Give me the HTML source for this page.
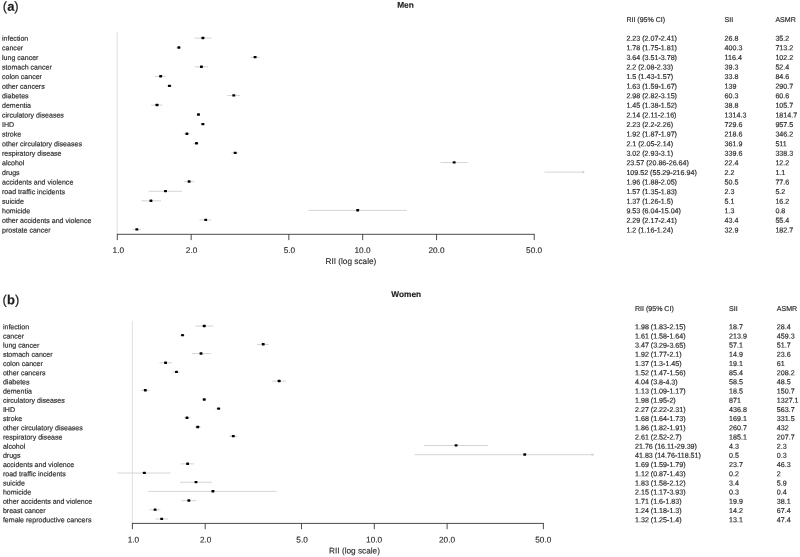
<!DOCTYPE html>
<html><head><meta charset="utf-8"><title>RII forest plot</title>
<style>
html,body{margin:0;padding:0;background:#fff;}
body{width:800px;height:557px;overflow:hidden;}
svg{display:block;font-family:"Liberation Sans",Arial,Helvetica,sans-serif;}
text{fill:#2a2a2a;stroke:#2a2a2a;stroke-width:0.17px;}
.t{font-size:7.06px;}
.r{font-size:7.12px;}
.a{font-size:8.25px;stroke-width:0.13px;}
.pl{font-size:13px;fill:#1a1a1a;}
.ti{font-size:8.3px;font-weight:bold;fill:#1a1a1a;}
.ref{stroke:#e0e0e0;stroke-width:1;}
.ci{stroke:#cdcdcd;stroke-width:0.85;stroke-linecap:square;}
.ar{fill:none;stroke:#c4c4c4;stroke-width:0.7;}
.pt{fill:#000;}
.ax{stroke:#2a2a2a;stroke-width:0.85;}
</style></head><body>
<svg width="800" height="557" viewBox="0 0 800 557">
<rect width="800" height="557" fill="#fff"/>
<g id="panel-a">
<text class="pl" x="2.80" y="10.70" transform="rotate(0.04 2.80 10.70)">(<tspan font-weight="bold">a</tspan>)</text>
<text class="ti" x="405.50" y="7.80" text-anchor="middle" transform="rotate(0.04 405.50 7.80)">Men</text>
<text class="t" x="626.40" y="21.90" transform="rotate(0.04 626.40 21.90)">RII (95% CI)</text>
<text class="t" x="724.60" y="21.90" transform="rotate(0.04 724.60 21.90)">SII</text>
<text class="t" x="775.40" y="21.90" transform="rotate(0.04 775.40 21.90)">ASMR</text>
<line class="ref" x1="117.2" y1="32.2" x2="117.2" y2="234.3"/>
<text class="t" x="2.00" y="40.70" transform="rotate(0.04 2.00 40.70)">infection</text>
<text class="t r" x="626.40" y="40.70" transform="rotate(0.04 626.40 40.70)">2.23 (2.07-2.41)</text>
<text class="t r" x="724.60" y="40.70" transform="rotate(0.04 724.60 40.70)">26.8</text>
<text class="t r" x="775.40" y="40.70" transform="rotate(0.04 775.40 40.70)">35.2</text>
<line class="ci" x1="194.84" y1="38.15" x2="211.05" y2="38.15"/>
<rect class="pt" x="201.42" y="36.80" width="2.9" height="2.4" rx="0.45"/>
<text class="t" x="2.00" y="50.29" transform="rotate(0.04 2.00 50.29)">cancer</text>
<text class="t r" x="626.40" y="50.29" transform="rotate(0.04 626.40 50.29)">1.78 (1.75-1.81)</text>
<text class="t r" x="724.60" y="50.29" transform="rotate(0.04 724.60 50.29)">400.3</text>
<text class="t r" x="775.40" y="50.29" transform="rotate(0.04 775.40 50.29)">713.2</text>
<line class="ci" x1="176.94" y1="47.72" x2="180.53" y2="47.72"/>
<rect class="pt" x="177.40" y="46.37" width="2.9" height="2.4" rx="0.45"/>
<text class="t" x="2.00" y="59.88" transform="rotate(0.04 2.00 59.88)">lung cancer</text>
<text class="t r" x="626.40" y="59.88" transform="rotate(0.04 626.40 59.88)">3.64 (3.51-3.78)</text>
<text class="t r" x="724.60" y="59.88" transform="rotate(0.04 724.60 59.88)">116.4</text>
<text class="t r" x="775.40" y="59.88" transform="rotate(0.04 775.40 59.88)">102.2</text>
<line class="ci" x1="251.12" y1="57.29" x2="259.02" y2="57.29"/>
<rect class="pt" x="253.64" y="55.94" width="2.9" height="2.4" rx="0.45"/>
<text class="t" x="2.00" y="69.46" transform="rotate(0.04 2.00 69.46)">stomach cancer</text>
<text class="t r" x="626.40" y="69.46" transform="rotate(0.04 626.40 69.46)">2.2 (2.08-2.33)</text>
<text class="t r" x="724.60" y="69.46" transform="rotate(0.04 724.60 69.46)">39.3</text>
<text class="t r" x="775.40" y="69.46" transform="rotate(0.04 775.40 69.46)">52.4</text>
<line class="ci" x1="195.35" y1="66.86" x2="207.45" y2="66.86"/>
<rect class="pt" x="199.98" y="65.51" width="2.9" height="2.4" rx="0.45"/>
<text class="t" x="2.00" y="79.05" transform="rotate(0.04 2.00 79.05)">colon cancer</text>
<text class="t r" x="626.40" y="79.05" transform="rotate(0.04 626.40 79.05)">1.5 (1.43-1.57)</text>
<text class="t r" x="724.60" y="79.05" transform="rotate(0.04 724.60 79.05)">33.8</text>
<text class="t r" x="775.40" y="79.05" transform="rotate(0.04 775.40 79.05)">84.6</text>
<line class="ci" x1="155.42" y1="76.43" x2="165.37" y2="76.43"/>
<rect class="pt" x="159.16" y="75.08" width="2.9" height="2.4" rx="0.45"/>
<text class="t" x="2.00" y="88.64" transform="rotate(0.04 2.00 88.64)">other cancers</text>
<text class="t r" x="626.40" y="88.64" transform="rotate(0.04 626.40 88.64)">1.63 (1.59-1.67)</text>
<text class="t r" x="724.60" y="88.64" transform="rotate(0.04 724.60 88.64)">139</text>
<text class="t r" x="775.40" y="88.64" transform="rotate(0.04 775.40 88.64)">290.7</text>
<line class="ci" x1="166.72" y1="86.00" x2="171.95" y2="86.00"/>
<rect class="pt" x="168.02" y="84.65" width="2.9" height="2.4" rx="0.45"/>
<text class="t" x="2.00" y="98.23" transform="rotate(0.04 2.00 98.23)">diabetes</text>
<text class="t r" x="626.40" y="98.23" transform="rotate(0.04 626.40 98.23)">2.98 (2.82-3.15)</text>
<text class="t r" x="724.60" y="98.23" transform="rotate(0.04 724.60 98.23)">60.3</text>
<text class="t r" x="775.40" y="98.23" transform="rotate(0.04 775.40 98.23)">60.6</text>
<line class="ci" x1="227.79" y1="95.57" x2="239.59" y2="95.57"/>
<rect class="pt" x="232.32" y="94.22" width="2.9" height="2.4" rx="0.45"/>
<text class="t" x="2.00" y="107.82" transform="rotate(0.04 2.00 107.82)">dementia</text>
<text class="t r" x="626.40" y="107.82" transform="rotate(0.04 626.40 107.82)">1.45 (1.38-1.52)</text>
<text class="t r" x="724.60" y="107.82" transform="rotate(0.04 724.60 107.82)">38.8</text>
<text class="t r" x="775.40" y="107.82" transform="rotate(0.04 775.40 107.82)">105.7</text>
<line class="ci" x1="151.63" y1="105.14" x2="161.92" y2="105.14"/>
<rect class="pt" x="155.55" y="103.79" width="2.9" height="2.4" rx="0.45"/>
<text class="t" x="2.00" y="117.40" transform="rotate(0.04 2.00 117.40)">circulatory diseases</text>
<text class="t r" x="626.40" y="117.40" transform="rotate(0.04 626.40 117.40)">2.14 (2.11-2.16)</text>
<text class="t r" x="724.60" y="117.40" transform="rotate(0.04 724.60 117.40)">1314.3</text>
<text class="t r" x="775.40" y="117.40" transform="rotate(0.04 775.40 117.40)">1814.7</text>
<line class="ci" x1="196.88" y1="114.71" x2="199.37" y2="114.71"/>
<rect class="pt" x="197.03" y="113.36" width="2.9" height="2.4" rx="0.45"/>
<text class="t" x="2.00" y="126.99" transform="rotate(0.04 2.00 126.99)">IHD</text>
<text class="t r" x="626.40" y="126.99" transform="rotate(0.04 626.40 126.99)">2.23 (2.2-2.26)</text>
<text class="t r" x="724.60" y="126.99" transform="rotate(0.04 724.60 126.99)">729.6</text>
<text class="t r" x="775.40" y="126.99" transform="rotate(0.04 775.40 126.99)">957.5</text>
<line class="ci" x1="201.33" y1="124.28" x2="204.20" y2="124.28"/>
<rect class="pt" x="201.42" y="122.93" width="2.9" height="2.4" rx="0.45"/>
<text class="t" x="2.00" y="136.58" transform="rotate(0.04 2.00 136.58)">stroke</text>
<text class="t r" x="626.40" y="136.58" transform="rotate(0.04 626.40 136.58)">1.92 (1.87-1.97)</text>
<text class="t r" x="724.60" y="136.58" transform="rotate(0.04 724.60 136.58)">218.6</text>
<text class="t r" x="775.40" y="136.58" transform="rotate(0.04 775.40 136.58)">346.2</text>
<line class="ci" x1="184.01" y1="133.85" x2="189.56" y2="133.85"/>
<rect class="pt" x="185.47" y="132.50" width="2.9" height="2.4" rx="0.45"/>
<text class="t" x="2.00" y="146.17" transform="rotate(0.04 2.00 146.17)">other circulatory diseases</text>
<text class="t r" x="626.40" y="146.17" transform="rotate(0.04 626.40 146.17)">2.1 (2.05-2.14)</text>
<text class="t r" x="724.60" y="146.17" transform="rotate(0.04 724.60 146.17)">361.9</text>
<text class="t r" x="775.40" y="146.17" transform="rotate(0.04 775.40 146.17)">511</text>
<line class="ci" x1="193.80" y1="143.42" x2="198.38" y2="143.42"/>
<rect class="pt" x="195.02" y="142.07" width="2.9" height="2.4" rx="0.45"/>
<text class="t" x="2.00" y="155.76" transform="rotate(0.04 2.00 155.76)">respiratory disease</text>
<text class="t r" x="626.40" y="155.76" transform="rotate(0.04 626.40 155.76)">3.02 (2.93-3.1)</text>
<text class="t r" x="724.60" y="155.76" transform="rotate(0.04 724.60 155.76)">339.6</text>
<text class="t r" x="775.40" y="155.76" transform="rotate(0.04 775.40 155.76)">338.3</text>
<line class="ci" x1="231.87" y1="152.99" x2="237.88" y2="152.99"/>
<rect class="pt" x="233.74" y="151.64" width="2.9" height="2.4" rx="0.45"/>
<text class="t" x="2.00" y="165.34" transform="rotate(0.04 2.00 165.34)">alcohol</text>
<text class="t r" x="626.40" y="165.34" transform="rotate(0.04 626.40 165.34)">23.57 (20.86-26.64)</text>
<text class="t r" x="724.60" y="165.34" transform="rotate(0.04 724.60 165.34)">22.4</text>
<text class="t r" x="775.40" y="165.34" transform="rotate(0.04 775.40 165.34)">12.2</text>
<line class="ci" x1="441.06" y1="162.56" x2="467.13" y2="162.56"/>
<rect class="pt" x="452.73" y="161.21" width="2.9" height="2.4" rx="0.45"/>
<text class="t" x="2.00" y="174.93" transform="rotate(0.04 2.00 174.93)">drugs</text>
<text class="t r" x="626.40" y="174.93" transform="rotate(0.04 626.40 174.93)">109.52 (55.29-216.94)</text>
<text class="t r" x="724.60" y="174.93" transform="rotate(0.04 724.60 174.93)">2.2</text>
<text class="t r" x="775.40" y="174.93" transform="rotate(0.04 775.40 174.93)">1.1</text>
<line class="ci" x1="544.95" y1="172.13" x2="584.00" y2="172.13"/>
<path class="ar" d="M582.10 171.13 L584.00 172.13 L582.10 173.13"/>
<text class="t" x="2.00" y="184.52" transform="rotate(0.04 2.00 184.52)">accidents and violence</text>
<text class="t r" x="626.40" y="184.52" transform="rotate(0.04 626.40 184.52)">1.96 (1.88-2.05)</text>
<text class="t r" x="724.60" y="184.52" transform="rotate(0.04 724.60 184.52)">50.5</text>
<text class="t r" x="775.40" y="184.52" transform="rotate(0.04 775.40 184.52)">77.6</text>
<line class="ci" x1="184.58" y1="181.70" x2="193.80" y2="181.70"/>
<rect class="pt" x="187.67" y="180.35" width="2.9" height="2.4" rx="0.45"/>
<text class="t" x="2.00" y="194.11" transform="rotate(0.04 2.00 194.11)">road traffic incidents</text>
<text class="t r" x="626.40" y="194.11" transform="rotate(0.04 626.40 194.11)">1.57 (1.35-1.83)</text>
<text class="t r" x="724.60" y="194.11" transform="rotate(0.04 724.60 194.11)">2.3</text>
<text class="t r" x="775.40" y="194.11" transform="rotate(0.04 775.40 194.11)">5.2</text>
<line class="ci" x1="149.28" y1="191.27" x2="181.71" y2="191.27"/>
<rect class="pt" x="164.02" y="189.92" width="2.9" height="2.4" rx="0.45"/>
<text class="t" x="2.00" y="203.70" transform="rotate(0.04 2.00 203.70)">suicide</text>
<text class="t r" x="626.40" y="203.70" transform="rotate(0.04 626.40 203.70)">1.37 (1.26-1.5)</text>
<text class="t r" x="724.60" y="203.70" transform="rotate(0.04 724.60 203.70)">5.1</text>
<text class="t r" x="775.40" y="203.70" transform="rotate(0.04 775.40 203.70)">16.2</text>
<line class="ci" x1="141.93" y1="200.84" x2="160.51" y2="200.84"/>
<rect class="pt" x="149.50" y="199.49" width="2.9" height="2.4" rx="0.45"/>
<text class="t" x="2.00" y="213.28" transform="rotate(0.04 2.00 213.28)">homicide</text>
<text class="t r" x="626.40" y="213.28" transform="rotate(0.04 626.40 213.28)">9.53 (6.04-15.04)</text>
<text class="t r" x="724.60" y="213.28" transform="rotate(0.04 724.60 213.28)">1.3</text>
<text class="t r" x="775.40" y="213.28" transform="rotate(0.04 775.40 213.28)">0.8</text>
<line class="ci" x1="308.97" y1="210.41" x2="406.20" y2="210.41"/>
<rect class="pt" x="356.22" y="209.06" width="2.9" height="2.4" rx="0.45"/>
<text class="t" x="2.00" y="222.87" transform="rotate(0.04 2.00 222.87)">other accidents and violence</text>
<text class="t r" x="626.40" y="222.87" transform="rotate(0.04 626.40 222.87)">2.29 (2.17-2.41)</text>
<text class="t r" x="724.60" y="222.87" transform="rotate(0.04 724.60 222.87)">43.4</text>
<text class="t r" x="775.40" y="222.87" transform="rotate(0.04 775.40 222.87)">55.4</text>
<line class="ci" x1="199.87" y1="219.98" x2="211.05" y2="219.98"/>
<rect class="pt" x="204.25" y="218.63" width="2.9" height="2.4" rx="0.45"/>
<text class="t" x="2.00" y="232.46" transform="rotate(0.04 2.00 232.46)">prostate cancer</text>
<text class="t r" x="626.40" y="232.46" transform="rotate(0.04 626.40 232.46)">1.2 (1.16-1.24)</text>
<text class="t r" x="724.60" y="232.46" transform="rotate(0.04 724.60 232.46)">32.9</text>
<text class="t r" x="775.40" y="232.46" transform="rotate(0.04 775.40 232.46)">182.7</text>
<line class="ci" x1="133.12" y1="229.55" x2="140.23" y2="229.55"/>
<rect class="pt" x="135.38" y="228.20" width="2.9" height="2.4" rx="0.45"/>
<line class="ax" x1="116.80" y1="234.3" x2="534.73" y2="234.3"/>
<line class="ax" x1="117.30" y1="234.3" x2="117.30" y2="240.10000000000002"/>
<text class="a" x="118.30" y="253.10" text-anchor="middle" transform="rotate(0.04 118.30 253.10)">1.0</text>
<line class="ax" x1="191.17" y1="234.3" x2="191.17" y2="240.10000000000002"/>
<text class="a" x="191.57" y="253.10" text-anchor="middle" transform="rotate(0.04 191.57 253.10)">2.0</text>
<line class="ax" x1="288.83" y1="234.3" x2="288.83" y2="240.10000000000002"/>
<text class="a" x="289.43" y="253.10" text-anchor="middle" transform="rotate(0.04 289.43 253.10)">5.0</text>
<line class="ax" x1="362.70" y1="234.3" x2="362.70" y2="240.10000000000002"/>
<text class="a" x="362.50" y="253.10" text-anchor="middle" transform="rotate(0.04 362.50 253.10)">10.0</text>
<line class="ax" x1="436.57" y1="234.3" x2="436.57" y2="240.10000000000002"/>
<text class="a" x="436.47" y="253.10" text-anchor="middle" transform="rotate(0.04 436.47 253.10)">20.0</text>
<line class="ax" x1="534.23" y1="234.3" x2="534.23" y2="240.10000000000002"/>
<text class="a" x="534.13" y="253.10" text-anchor="middle" transform="rotate(0.04 534.13 253.10)">50.0</text>
<text class="a" x="350.90" y="264.00" text-anchor="middle" transform="rotate(0.04 350.90 264.00)">RII (log scale)</text>
</g>
<g id="panel-b">
<text class="pl" x="2.60" y="304.20" transform="rotate(0.04 2.60 304.20)">(<tspan font-weight="bold">b</tspan>)</text>
<text class="ti" x="406.20" y="296.90" text-anchor="middle" transform="rotate(0.04 406.20 296.90)">Women</text>
<text class="t" x="635.00" y="311.00" transform="rotate(0.04 635.00 311.00)">RII (95% CI)</text>
<text class="t" x="729.10" y="311.00" transform="rotate(0.04 729.10 311.00)">SII</text>
<text class="t" x="776.80" y="311.00" transform="rotate(0.04 776.80 311.00)">ASMR</text>
<line class="ref" x1="132.4" y1="320.8" x2="132.4" y2="523.4"/>
<text class="t" x="2.90" y="329.25" transform="rotate(0.04 2.90 329.25)">infection</text>
<text class="t r" x="635.00" y="329.25" transform="rotate(0.04 635.00 329.25)">1.98 (1.83-2.15)</text>
<text class="t r" x="729.10" y="329.25" transform="rotate(0.04 729.10 329.25)">18.7</text>
<text class="t r" x="776.80" y="329.25" transform="rotate(0.04 776.80 329.25)">28.4</text>
<line class="ci" x1="195.89" y1="326.10" x2="212.82" y2="326.10"/>
<rect class="pt" x="202.81" y="324.75" width="2.9" height="2.4" rx="0.45"/>
<text class="t" x="2.90" y="338.44" transform="rotate(0.04 2.90 338.44)">cancer</text>
<text class="t r" x="635.00" y="338.44" transform="rotate(0.04 635.00 338.44)">1.61 (1.58-1.64)</text>
<text class="t r" x="729.10" y="338.44" transform="rotate(0.04 729.10 338.44)">213.9</text>
<text class="t r" x="776.80" y="338.44" transform="rotate(0.04 776.80 338.44)">459.3</text>
<line class="ci" x1="180.46" y1="335.28" x2="184.37" y2="335.28"/>
<rect class="pt" x="181.08" y="333.94" width="2.9" height="2.4" rx="0.45"/>
<text class="t" x="2.90" y="347.62" transform="rotate(0.04 2.90 347.62)">lung cancer</text>
<text class="t r" x="635.00" y="347.62" transform="rotate(0.04 635.00 347.62)">3.47 (3.29-3.65)</text>
<text class="t r" x="729.10" y="347.62" transform="rotate(0.04 729.10 347.62)">57.1</text>
<text class="t r" x="776.80" y="347.62" transform="rotate(0.04 776.80 347.62)">51.7</text>
<line class="ci" x1="257.51" y1="344.47" x2="268.42" y2="344.47"/>
<rect class="pt" x="261.76" y="343.12" width="2.9" height="2.4" rx="0.45"/>
<text class="t" x="2.90" y="356.81" transform="rotate(0.04 2.90 356.81)">stomach cancer</text>
<text class="t r" x="635.00" y="356.81" transform="rotate(0.04 635.00 356.81)">1.92 (1.77-2.1)</text>
<text class="t r" x="729.10" y="356.81" transform="rotate(0.04 729.10 356.81)">14.9</text>
<text class="t r" x="776.80" y="356.81" transform="rotate(0.04 776.80 356.81)">23.6</text>
<line class="ci" x1="192.38" y1="353.65" x2="210.34" y2="353.65"/>
<rect class="pt" x="199.58" y="352.31" width="2.9" height="2.4" rx="0.45"/>
<text class="t" x="2.90" y="365.99" transform="rotate(0.04 2.90 365.99)">colon cancer</text>
<text class="t r" x="635.00" y="365.99" transform="rotate(0.04 635.00 365.99)">1.37 (1.3-1.45)</text>
<text class="t r" x="729.10" y="365.99" transform="rotate(0.04 729.10 365.99)">19.1</text>
<text class="t r" x="776.80" y="365.99" transform="rotate(0.04 776.80 365.99)">61</text>
<line class="ci" x1="159.96" y1="362.84" x2="171.43" y2="362.84"/>
<rect class="pt" x="164.12" y="361.49" width="2.9" height="2.4" rx="0.45"/>
<text class="t" x="2.90" y="375.18" transform="rotate(0.04 2.90 375.18)">other cancers</text>
<text class="t r" x="635.00" y="375.18" transform="rotate(0.04 635.00 375.18)">1.52 (1.47-1.56)</text>
<text class="t r" x="729.10" y="375.18" transform="rotate(0.04 729.10 375.18)">85.4</text>
<text class="t r" x="776.80" y="375.18" transform="rotate(0.04 776.80 375.18)">208.2</text>
<line class="ci" x1="172.87" y1="372.02" x2="179.12" y2="372.02"/>
<rect class="pt" x="175.04" y="370.68" width="2.9" height="2.4" rx="0.45"/>
<text class="t" x="2.90" y="384.36" transform="rotate(0.04 2.90 384.36)">diabetes</text>
<text class="t r" x="635.00" y="384.36" transform="rotate(0.04 635.00 384.36)">4.04 (3.8-4.3)</text>
<text class="t r" x="729.10" y="384.36" transform="rotate(0.04 729.10 384.36)">58.5</text>
<text class="t r" x="776.80" y="384.36" transform="rotate(0.04 776.80 384.36)">48.5</text>
<line class="ci" x1="272.65" y1="381.21" x2="285.64" y2="381.21"/>
<rect class="pt" x="277.73" y="379.86" width="2.9" height="2.4" rx="0.45"/>
<text class="t" x="2.90" y="393.55" transform="rotate(0.04 2.90 393.55)">dementia</text>
<text class="t r" x="635.00" y="393.55" transform="rotate(0.04 635.00 393.55)">1.13 (1.09-1.17)</text>
<text class="t r" x="729.10" y="393.55" transform="rotate(0.04 729.10 393.55)">18.5</text>
<text class="t r" x="776.80" y="393.55" transform="rotate(0.04 776.80 393.55)">150.7</text>
<line class="ci" x1="141.45" y1="390.39" x2="148.89" y2="390.39"/>
<rect class="pt" x="143.89" y="389.05" width="2.9" height="2.4" rx="0.45"/>
<text class="t" x="2.90" y="402.73" transform="rotate(0.04 2.90 402.73)">circulatory diseases</text>
<text class="t r" x="635.00" y="402.73" transform="rotate(0.04 635.00 402.73)">1.98 (1.95-2)</text>
<text class="t r" x="729.10" y="402.73" transform="rotate(0.04 729.10 402.73)">871</text>
<text class="t r" x="776.80" y="402.73" transform="rotate(0.04 776.80 402.73)">1327.1</text>
<line class="ci" x1="202.56" y1="399.58" x2="205.22" y2="399.58"/>
<rect class="pt" x="202.81" y="398.23" width="2.9" height="2.4" rx="0.45"/>
<text class="t" x="2.90" y="411.92" transform="rotate(0.04 2.90 411.92)">IHD</text>
<text class="t r" x="635.00" y="411.92" transform="rotate(0.04 635.00 411.92)">2.27 (2.22-2.31)</text>
<text class="t r" x="729.10" y="411.92" transform="rotate(0.04 729.10 411.92)">436.8</text>
<text class="t r" x="776.80" y="411.92" transform="rotate(0.04 776.80 411.92)">563.7</text>
<line class="ci" x1="216.18" y1="408.76" x2="220.36" y2="408.76"/>
<rect class="pt" x="217.17" y="407.42" width="2.9" height="2.4" rx="0.45"/>
<text class="t" x="2.90" y="421.10" transform="rotate(0.04 2.90 421.10)">stroke</text>
<text class="t r" x="635.00" y="421.10" transform="rotate(0.04 635.00 421.10)">1.68 (1.64-1.73)</text>
<text class="t r" x="729.10" y="421.10" transform="rotate(0.04 729.10 421.10)">169.1</text>
<text class="t r" x="776.80" y="421.10" transform="rotate(0.04 776.80 421.10)">331.5</text>
<line class="ci" x1="184.37" y1="417.95" x2="189.98" y2="417.95"/>
<rect class="pt" x="185.55" y="416.60" width="2.9" height="2.4" rx="0.45"/>
<text class="t" x="2.90" y="430.29" transform="rotate(0.04 2.90 430.29)">other circulatory diseases</text>
<text class="t r" x="635.00" y="430.29" transform="rotate(0.04 635.00 430.29)">1.86 (1.82-1.91)</text>
<text class="t r" x="729.10" y="430.29" transform="rotate(0.04 729.10 430.29)">260.7</text>
<text class="t r" x="776.80" y="430.29" transform="rotate(0.04 776.80 430.29)">432</text>
<line class="ci" x1="195.31" y1="427.13" x2="200.38" y2="427.13"/>
<rect class="pt" x="196.25" y="425.79" width="2.9" height="2.4" rx="0.45"/>
<text class="t" x="2.90" y="439.47" transform="rotate(0.04 2.90 439.47)">respiratory disease</text>
<text class="t r" x="635.00" y="439.47" transform="rotate(0.04 635.00 439.47)">2.61 (2.52-2.7)</text>
<text class="t r" x="729.10" y="439.47" transform="rotate(0.04 729.10 439.47)">185.1</text>
<text class="t r" x="776.80" y="439.47" transform="rotate(0.04 776.80 439.47)">207.7</text>
<line class="ci" x1="229.50" y1="436.32" x2="236.75" y2="436.32"/>
<rect class="pt" x="231.84" y="434.97" width="2.9" height="2.4" rx="0.45"/>
<text class="t" x="2.90" y="448.66" transform="rotate(0.04 2.90 448.66)">alcohol</text>
<text class="t r" x="635.00" y="448.66" transform="rotate(0.04 635.00 448.66)">21.76 (16.11-29.39)</text>
<text class="t r" x="729.10" y="448.66" transform="rotate(0.04 729.10 448.66)">4.3</text>
<text class="t r" x="776.80" y="448.66" transform="rotate(0.04 776.80 448.66)">2.3</text>
<line class="ci" x1="424.40" y1="445.50" x2="487.56" y2="445.50"/>
<rect class="pt" x="454.63" y="444.16" width="2.9" height="2.4" rx="0.45"/>
<text class="t" x="2.90" y="457.84" transform="rotate(0.04 2.90 457.84)">drugs</text>
<text class="t r" x="635.00" y="457.84" transform="rotate(0.04 635.00 457.84)">41.83 (14.76-118.51)</text>
<text class="t r" x="729.10" y="457.84" transform="rotate(0.04 729.10 457.84)">0.5</text>
<text class="t r" x="776.80" y="457.84" transform="rotate(0.04 776.80 457.84)">0.3</text>
<line class="ci" x1="415.20" y1="454.69" x2="593.30" y2="454.69"/>
<path class="ar" d="M591.40 453.69 L593.30 454.69 L591.40 455.69"/>
<rect class="pt" x="523.29" y="453.34" width="2.9" height="2.4" rx="0.45"/>
<text class="t" x="2.90" y="467.03" transform="rotate(0.04 2.90 467.03)">accidents and violence</text>
<text class="t r" x="635.00" y="467.03" transform="rotate(0.04 635.00 467.03)">1.69 (1.59-1.79)</text>
<text class="t r" x="729.10" y="467.03" transform="rotate(0.04 729.10 467.03)">23.7</text>
<text class="t r" x="776.80" y="467.03" transform="rotate(0.04 776.80 467.03)">46.3</text>
<line class="ci" x1="181.12" y1="463.88" x2="193.57" y2="463.88"/>
<rect class="pt" x="186.18" y="462.53" width="2.9" height="2.4" rx="0.45"/>
<text class="t" x="2.90" y="476.21" transform="rotate(0.04 2.90 476.21)">road traffic incidents</text>
<text class="t r" x="635.00" y="476.21" transform="rotate(0.04 635.00 476.21)">1.12 (0.87-1.43)</text>
<text class="t r" x="729.10" y="476.21" transform="rotate(0.04 729.10 476.21)">0.2</text>
<text class="t r" x="776.80" y="476.21" transform="rotate(0.04 776.80 476.21)">2</text>
<line class="ci" x1="117.77" y1="473.06" x2="169.98" y2="473.06"/>
<rect class="pt" x="142.96" y="471.71" width="2.9" height="2.4" rx="0.45"/>
<text class="t" x="2.90" y="485.40" transform="rotate(0.04 2.90 485.40)">suicide</text>
<text class="t r" x="635.00" y="485.40" transform="rotate(0.04 635.00 485.40)">1.83 (1.58-2.12)</text>
<text class="t r" x="729.10" y="485.40" transform="rotate(0.04 729.10 485.40)">3.4</text>
<text class="t r" x="776.80" y="485.40" transform="rotate(0.04 776.80 485.40)">5.9</text>
<line class="ci" x1="180.46" y1="482.25" x2="211.34" y2="482.25"/>
<rect class="pt" x="194.54" y="480.90" width="2.9" height="2.4" rx="0.45"/>
<text class="t" x="2.90" y="494.58" transform="rotate(0.04 2.90 494.58)">homicide</text>
<text class="t r" x="635.00" y="494.58" transform="rotate(0.04 635.00 494.58)">2.15 (1.17-3.93)</text>
<text class="t r" x="729.10" y="494.58" transform="rotate(0.04 729.10 494.58)">0.3</text>
<text class="t r" x="776.80" y="494.58" transform="rotate(0.04 776.80 494.58)">0.4</text>
<line class="ci" x1="148.89" y1="491.43" x2="276.18" y2="491.43"/>
<rect class="pt" x="211.47" y="490.08" width="2.9" height="2.4" rx="0.45"/>
<text class="t" x="2.90" y="503.77" transform="rotate(0.04 2.90 503.77)">other accidents and violence</text>
<text class="t r" x="635.00" y="503.77" transform="rotate(0.04 635.00 503.77)">1.71 (1.6-1.83)</text>
<text class="t r" x="729.10" y="503.77" transform="rotate(0.04 729.10 503.77)">19.9</text>
<text class="t r" x="776.80" y="503.77" transform="rotate(0.04 776.80 503.77)">38.1</text>
<line class="ci" x1="181.78" y1="500.62" x2="195.89" y2="500.62"/>
<rect class="pt" x="187.41" y="499.27" width="2.9" height="2.4" rx="0.45"/>
<text class="t" x="2.90" y="512.95" transform="rotate(0.04 2.90 512.95)">breast cancer</text>
<text class="t r" x="635.00" y="512.95" transform="rotate(0.04 635.00 512.95)">1.24 (1.18-1.3)</text>
<text class="t r" x="729.10" y="512.95" transform="rotate(0.04 729.10 512.95)">14.2</text>
<text class="t r" x="776.80" y="512.95" transform="rotate(0.04 776.80 512.95)">67.4</text>
<line class="ci" x1="149.79" y1="509.80" x2="159.96" y2="509.80"/>
<rect class="pt" x="153.65" y="508.45" width="2.9" height="2.4" rx="0.45"/>
<text class="t" x="2.90" y="522.14" transform="rotate(0.04 2.90 522.14)">female reproductive cancers</text>
<text class="t r" x="635.00" y="522.14" transform="rotate(0.04 635.00 522.14)">1.32 (1.25-1.4)</text>
<text class="t r" x="729.10" y="522.14" transform="rotate(0.04 729.10 522.14)">13.1</text>
<text class="t r" x="776.80" y="522.14" transform="rotate(0.04 776.80 522.14)">47.4</text>
<line class="ci" x1="155.84" y1="518.99" x2="167.75" y2="518.99"/>
<rect class="pt" x="160.22" y="517.63" width="2.9" height="2.4" rx="0.45"/>
<line class="ax" x1="131.90" y1="523.4" x2="543.88" y2="523.4"/>
<line class="ax" x1="132.40" y1="523.4" x2="132.40" y2="529.1999999999999"/>
<text class="a" x="133.40" y="542.60" text-anchor="middle" transform="rotate(0.04 133.40 542.60)">1.0</text>
<line class="ax" x1="205.22" y1="523.4" x2="205.22" y2="529.1999999999999"/>
<text class="a" x="205.62" y="542.60" text-anchor="middle" transform="rotate(0.04 205.62 542.60)">2.0</text>
<line class="ax" x1="301.48" y1="523.4" x2="301.48" y2="529.1999999999999"/>
<text class="a" x="302.08" y="542.60" text-anchor="middle" transform="rotate(0.04 302.08 542.60)">5.0</text>
<line class="ax" x1="374.30" y1="523.4" x2="374.30" y2="529.1999999999999"/>
<text class="a" x="374.10" y="542.60" text-anchor="middle" transform="rotate(0.04 374.10 542.60)">10.0</text>
<line class="ax" x1="447.12" y1="523.4" x2="447.12" y2="529.1999999999999"/>
<text class="a" x="447.02" y="542.60" text-anchor="middle" transform="rotate(0.04 447.02 542.60)">20.0</text>
<line class="ax" x1="543.38" y1="523.4" x2="543.38" y2="529.1999999999999"/>
<text class="a" x="543.28" y="542.60" text-anchor="middle" transform="rotate(0.04 543.28 542.60)">50.0</text>
<text class="a" x="354.50" y="553.50" text-anchor="middle" transform="rotate(0.04 354.50 553.50)">RII (log scale)</text>
</g>
</svg>
</body></html>
